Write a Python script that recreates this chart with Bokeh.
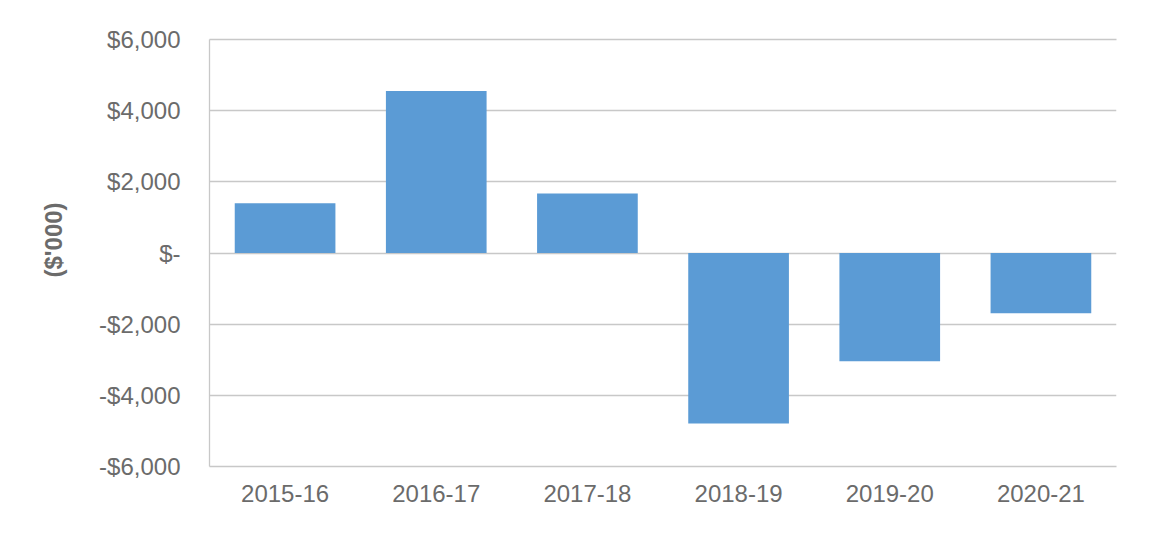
from bokeh.embed import file_html
from bokeh.models import CategoricalAxis, ColumnDataSource, FixedTicker, Range1d, Title
from bokeh.plotting import figure
from bokeh.resources import INLINE

years = ["2015-16", "2016-17", "2017-18", "2018-19", "2019-20", "2020-21"]
amounts = [1400, 4550, 1670, -4790, -3040, -1690]

tick_values = [-6000, -4000, -2000, 0, 2000, 4000, 6000]
tick_labels = ["-$6,000", "-$4,000", "-$2,000", "$-", "$2,000", "$4,000", "$6,000"]
y_title = "($'000)"

source = ColumnDataSource(data={"year": years, "amount": amounts})

text_color = "#6b6b6b"
grid_color = "#c8c8c8"
font = "Liberation Sans"

p = figure(
    x_range=years,
    y_range=Range1d(-6000, 6000),
    frame_width=907,
    frame_height=427,
    min_border_left=209,
    min_border_right=38,
    min_border_top=39,
    min_border_bottom=60,
    toolbar_location=None,
    output_backend="svg",
)

p.vbar(x="year", top="amount", bottom=0, width=0.666, source=source,
       fill_color="#5b9bd5", line_color=None)

p.outline_line_color = None
p.xgrid.grid_line_color = None
p.ygrid.grid_line_color = grid_color
p.ygrid.grid_line_width = 1.3
p.ygrid.ticker = FixedTicker(ticks=tick_values)

# top border line (the $6,000 gridline sits on the frame edge)
top = CategoricalAxis(axis_line_color=grid_color, axis_line_width=1.3,
                      major_tick_line_color=None, major_label_text_color=None,
                      major_label_text_font_size="1px")
p.add_layout(top, "above")

p.yaxis.ticker = FixedTicker(ticks=tick_values)
p.yaxis.major_label_overrides = dict(zip(tick_values, tick_labels))
p.yaxis.axis_line_color = grid_color
p.yaxis.axis_line_width = 1.3
p.yaxis.major_tick_line_color = None
p.yaxis.minor_tick_line_color = None
p.yaxis.major_label_standoff = 23

p.xaxis.axis_line_color = grid_color
p.xaxis.axis_line_width = 1.3
p.xaxis.major_tick_line_color = None
p.xaxis.major_label_standoff = 12

for ax in (p.below[0], p.yaxis[0]):
    ax.major_label_text_font = font
    ax.major_label_text_font_size = "24px"
    ax.major_label_text_color = text_color

title = Title(text=y_title, align="left", offset=189, standoff=59,
              text_font=font, text_font_size="24px", text_font_style="bold",
              text_color=text_color)
p.add_layout(title, "left")

open("out.html", "w").write(file_html(p, INLINE))
